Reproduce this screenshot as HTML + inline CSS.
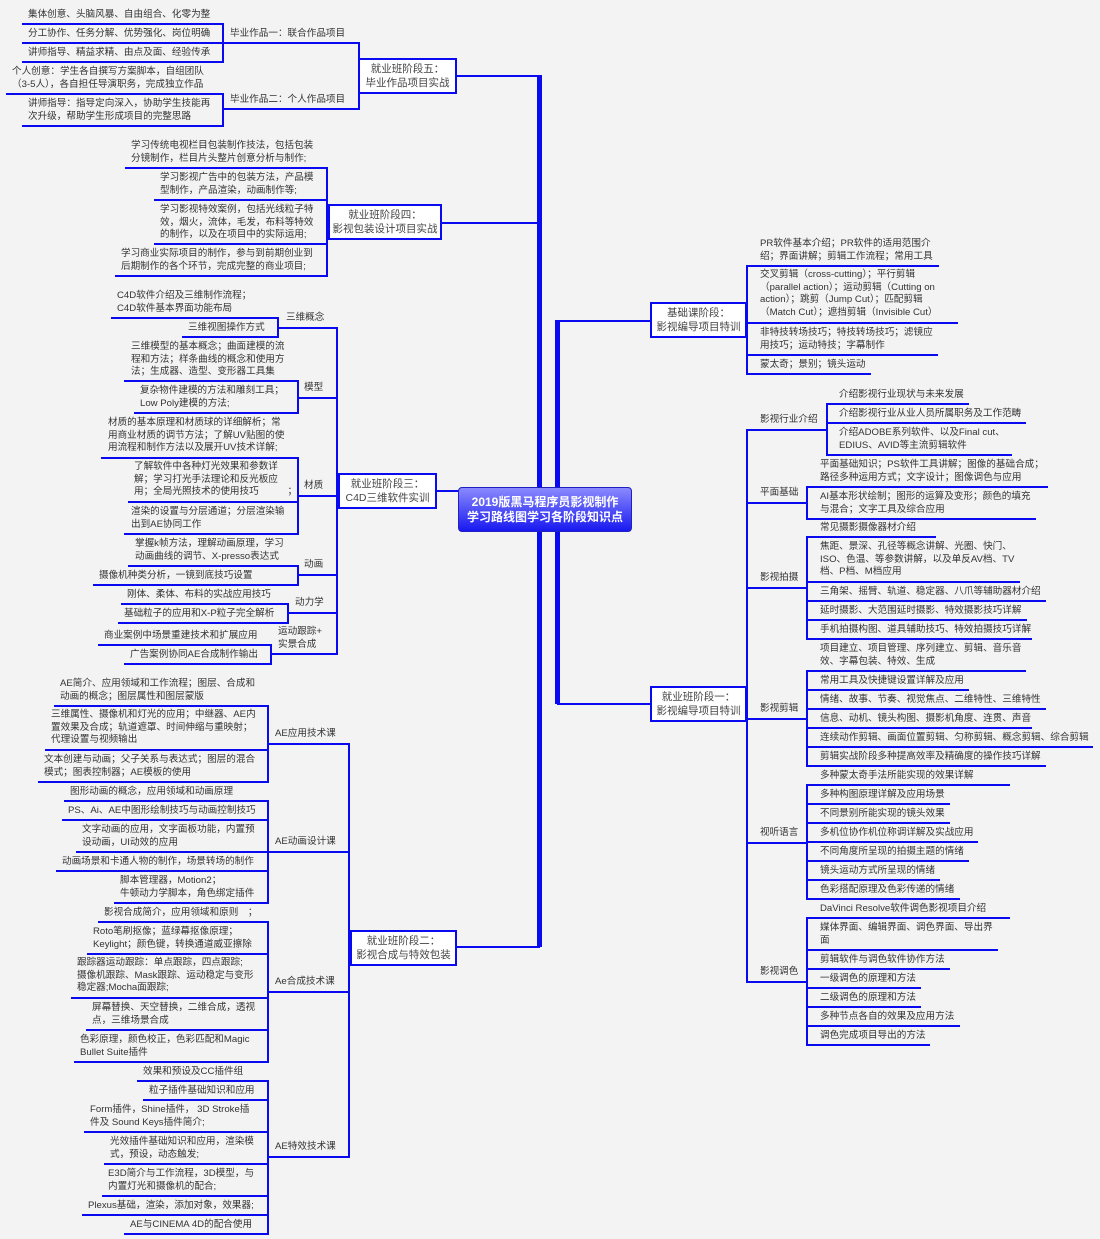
<!DOCTYPE html>
<html><head><meta charset="utf-8">
<style>
body{margin:0;background:#f3f3f3;}
#c{position:relative;width:1100px;height:1239px;overflow:hidden;background:#f3f3f3;font-family:"Liberation Sans","Noto Sans CJK SC",sans-serif;}
.t{position:absolute;font-size:9.6px;line-height:12.7px;color:#333;white-space:nowrap;}
.h{position:absolute;height:2px;background:#0a0af0;}
.v{position:absolute;width:2px;background:#0a0af0;}
.b{position:absolute;background:#fff;border:2px solid #0a0af0;box-sizing:border-box;font-size:10.5px;line-height:14px;color:#444;text-align:center;display:flex;flex-direction:column;justify-content:center;}
.ctr{position:absolute;left:458px;top:487px;width:174px;height:45px;border-radius:4px;background:linear-gradient(#8a8aff,#1818f0);border:1px solid #2020c0;box-sizing:border-box;color:#fff;font-weight:bold;font-size:12px;line-height:15px;text-align:center;display:flex;flex-direction:column;justify-content:center;}
</style></head><body><div id="c">
<!-- trunks -->
<div class="v" style="left:537px;top:75px;height:872px;width:5px"></div>
<div class="v" style="left:555px;top:320px;height:384px;width:5px"></div>
<div class="h" style="left:456px;top:75px;width:84px"></div>
<div class="h" style="left:441px;top:222px;width:98px"></div>
<div class="h" style="left:436px;top:490px;width:24px"></div>
<div class="h" style="left:456px;top:946px;width:84px"></div>
<div class="h" style="left:557px;top:320px;width:95px"></div>
<div class="h" style="left:557px;top:703px;width:95px"></div>
<div class="ctr"><div>2019版黑马程序员影视制作</div><div>学习路线图学习各阶段知识点</div></div>

<!-- Stage 5 -->
<div class="v" style="left:358px;top:42px;height:68px"></div>
<div class="b" style="left:358px;top:58px;width:99px;height:36px"><div>就业班阶段五：</div><div>毕业作品项目实战</div></div>
<div class="h" style="left:222px;top:42px;width:138px"></div>
<div class="h" style="left:222px;top:108px;width:138px"></div>
<div class="t" style="left:230px;top:28px">毕业作品一：联合作品项目</div>
<div class="t" style="left:230px;top:94px">毕业作品二：个人作品项目</div>
<div class="v" style="left:222px;top:23px;height:40px"></div>
<div class="v" style="left:222px;top:93px;height:34px"></div>
<div class="h" style="left:22px;top:23px;width:200px"></div>
<div class="h" style="left:22px;top:42px;width:200px"></div>
<div class="h" style="left:22px;top:61px;width:200px"></div>
<div class="h" style="left:6px;top:93px;width:216px"></div>
<div class="h" style="left:22px;top:125px;width:200px"></div>
<div class="t" style="left:28px;top:9px">集体创意、头脑风暴、自由组合、化零为整</div>
<div class="t" style="left:28px;top:28px">分工协作、任务分解、优势强化、岗位明确</div>
<div class="t" style="left:28px;top:47px">讲师指导、精益求精、由点及面、经验传承</div>
<div class="t" style="left:12px;top:66px">个人创意：学生各自撰写方案脚本，自组团队<br>（3-5人），各自担任导演职务，完成独立作品</div>
<div class="t" style="left:28px;top:98px">讲师指导：指导定向深入，协助学生技能再<br>次升级，帮助学生形成项目的完整思路</div>

<!-- Stage 4 -->
<div class="v" style="left:326px;top:167px;height:110px"></div>
<div class="b" style="left:328px;top:204px;width:114px;height:36px"><div>就业班阶段四：</div><div>影视包装设计项目实战</div></div>
<div class="h" style="left:125px;top:167px;width:201px"></div>
<div class="h" style="left:154px;top:199px;width:172px"></div>
<div class="h" style="left:154px;top:243px;width:172px"></div>
<div class="h" style="left:115px;top:275px;width:211px"></div>
<div class="t" style="left:131px;top:140px">学习传统电视栏目包装制作技法，包括包装<br>分镜制作，栏目片头整片创意分析与制作;</div>
<div class="t" style="left:160px;top:172px">学习影视广告中的包装方法，产品模<br>型制作，产品渲染，动画制作等;</div>
<div class="t" style="left:160px;top:204px">学习影视特效案例，包括光线粒子特<br>效，烟火，流体，毛发，布料等特效<br>的制作，以及在项目中的实际运用;</div>
<div class="t" style="left:121px;top:248px">学习商业实际项目的制作，参与到前期创业到<br>后期制作的各个环节，完成完整的商业项目;</div>

<!-- Stage 3 -->
<div class="v" style="left:336px;top:327px;height:328px"></div>
<div class="b" style="left:338px;top:473px;width:99px;height:36px"><div>就业班阶段三：</div><div>C4D三维软件实训</div></div>
<div class="h" style="left:277px;top:327px;width:60px"></div>
<div class="t" style="left:286px;top:312px">三维概念</div>
<div class="v" style="left:277px;top:317px;height:21px"></div>
<div class="h" style="left:111px;top:317px;width:166px"></div>
<div class="h" style="left:182px;top:336px;width:95px"></div>
<div class="t" style="left:117px;top:290px">C4D软件介绍及三维制作流程；<br>C4D软件基本界面功能布局</div>
<div class="t" style="left:188px;top:322px">三维视图操作方式</div>

<div class="h" style="left:297px;top:397px;width:40px"></div>
<div class="t" style="left:304px;top:382px">模型</div>
<div class="v" style="left:297px;top:380px;height:34px"></div>
<div class="h" style="left:124px;top:380px;width:173px"></div>
<div class="h" style="left:134px;top:412px;width:163px"></div>
<div class="t" style="left:131px;top:341px">三维模型的基本概念；曲面建模的流<br>程和方法；样条曲线的概念和使用方<br>法；生成器、造型、变形器工具集</div>
<div class="t" style="left:140px;top:385px">复杂物件建模的方法和雕刻工具；<br>Low Poly建模的方法;</div>

<div class="h" style="left:297px;top:495px;width:40px"></div>
<div class="t" style="left:304px;top:480px">材质</div>
<div class="v" style="left:297px;top:457px;height:78px"></div>
<div class="h" style="left:101px;top:457px;width:196px"></div>
<div class="h" style="left:128px;top:501px;width:169px"></div>
<div class="h" style="left:124px;top:533px;width:173px"></div>
<div class="t" style="left:108px;top:417px">材质的基本原理和材质球的详细解析；常<br>用商业材质的调节方法；了解UV贴图的使<br>用流程和制作方法以及展开UV技术详解;</div>
<div class="t" style="left:134px;top:461px">了解软件中各种灯光效果和参数详<br>解；学习打光手法理论和反光板应<br>用；全局光照技术的使用技巧　　　；</div>
<div class="t" style="left:131px;top:506px">渲染的设置与分层通道；分层渲染输<br>出到AE协同工作</div>

<div class="h" style="left:297px;top:574px;width:40px"></div>
<div class="t" style="left:304px;top:559px">动画</div>
<div class="v" style="left:297px;top:565px;height:21px"></div>
<div class="h" style="left:128px;top:565px;width:169px"></div>
<div class="h" style="left:93px;top:584px;width:204px"></div>
<div class="t" style="left:135px;top:538px">掌握k帧方法，理解动画原理，学习<br>动画曲线的调节、X-presso表达式</div>
<div class="t" style="left:99px;top:570px">摄像机种类分析，一镜到底技巧设置</div>

<div class="h" style="left:287px;top:612px;width:50px"></div>
<div class="t" style="left:295px;top:597px">动力学</div>
<div class="v" style="left:287px;top:603px;height:21px"></div>
<div class="h" style="left:121px;top:603px;width:166px"></div>
<div class="h" style="left:118px;top:622px;width:169px"></div>
<div class="t" style="left:127px;top:589px">刚体、柔体、布料的实战应用技巧</div>
<div class="t" style="left:124px;top:608px">基础粒子的应用和X-P粒子完全解析</div>

<div class="h" style="left:270px;top:653px;width:67px"></div>
<div class="t" style="left:278px;top:626px">运动跟踪+<br>实景合成</div>
<div class="v" style="left:270px;top:644px;height:21px"></div>
<div class="h" style="left:98px;top:644px;width:172px"></div>
<div class="h" style="left:124px;top:663px;width:146px"></div>
<div class="t" style="left:104px;top:630px">商业案例中场景重建技术和扩展应用</div>
<div class="t" style="left:130px;top:649px">广告案例协同AE合成制作输出</div>

<!-- Stage 2 -->
<div class="v" style="left:348px;top:743px;height:415px"></div>
<div class="b" style="left:350px;top:930px;width:107px;height:36px"><div>就业班阶段二：</div><div>影视合成与特效包装</div></div>
<div class="h" style="left:267px;top:743px;width:81px"></div>
<div class="h" style="left:267px;top:851px;width:81px"></div>
<div class="h" style="left:267px;top:991px;width:81px"></div>
<div class="h" style="left:267px;top:1156px;width:81px"></div>
<div class="t" style="left:275px;top:728px">AE应用技术课</div>
<div class="t" style="left:275px;top:836px">AE动画设计课</div>
<div class="t" style="left:275px;top:976px">Ae合成技术课</div>
<div class="t" style="left:275px;top:1141px">AE特效技术课</div>

<div class="v" style="left:267px;top:705px;height:78px"></div>
<div class="h" style="left:54px;top:705px;width:213px"></div>
<div class="h" style="left:45px;top:749px;width:222px"></div>
<div class="h" style="left:38px;top:781px;width:229px"></div>
<div class="t" style="left:60px;top:678px">AE简介、应用领域和工作流程；图层、合成和<br>动画的概念；图层属性和图层蒙版</div>
<div class="t" style="left:51px;top:709px">三维属性、摄像机和灯光的应用；中继器、AE内<br>置效果及合成；轨道遮罩、时间伸缩与重映射；<br>代理设置与视频输出</div>
<div class="t" style="left:44px;top:754px">文本创建与动画；父子关系与表达式；图层的混合<br>模式；图表控制器；AE模板的使用</div>

<div class="v" style="left:267px;top:800px;height:104px"></div>
<div class="h" style="left:64px;top:800px;width:203px"></div>
<div class="h" style="left:62px;top:819px;width:205px"></div>
<div class="h" style="left:76px;top:851px;width:191px"></div>
<div class="h" style="left:56px;top:870px;width:211px"></div>
<div class="h" style="left:114px;top:902px;width:153px"></div>
<div class="t" style="left:70px;top:786px">图形动画的概念，应用领域和动画原理</div>
<div class="t" style="left:68px;top:805px">PS、Ai、AE中图形绘制技巧与动画控制技巧</div>
<div class="t" style="left:82px;top:824px">文字动画的应用，文字面板功能，内置预<br>设动画，UI动效的应用</div>
<div class="t" style="left:62px;top:856px">动画场景和卡通人物的制作，场景转场的制作</div>
<div class="t" style="left:120px;top:875px">脚本管理器，Motion2；<br>牛顿动力学脚本，角色绑定插件</div>

<div class="v" style="left:267px;top:921px;height:142px"></div>
<div class="h" style="left:98px;top:921px;width:169px"></div>
<div class="h" style="left:87px;top:953px;width:180px"></div>
<div class="h" style="left:71px;top:997px;width:196px"></div>
<div class="h" style="left:86px;top:1029px;width:181px"></div>
<div class="h" style="left:74px;top:1061px;width:193px"></div>
<div class="t" style="left:104px;top:907px">影视合成简介，应用领域和原则　；</div>
<div class="t" style="left:93px;top:926px">Roto笔刷抠像；蓝绿幕抠像原理；<br>Keylight；颜色键，转换通道威亚擦除</div>
<div class="t" style="left:77px;top:957px">跟踪器运动跟踪：单点跟踪，四点跟踪;<br>摄像机跟踪、Mask跟踪、运动稳定与变形<br>稳定器;Mocha面跟踪;</div>
<div class="t" style="left:92px;top:1002px">屏幕替换、天空替换，二维合成，透视<br>点，三维场景合成</div>
<div class="t" style="left:80px;top:1034px">色彩原理，颜色校正，色彩匹配和Magic<br>Bullet Suite插件</div>

<div class="v" style="left:267px;top:1080px;height:155px"></div>
<div class="h" style="left:137px;top:1080px;width:130px"></div>
<div class="h" style="left:143px;top:1099px;width:124px"></div>
<div class="h" style="left:84px;top:1131px;width:183px"></div>
<div class="h" style="left:104px;top:1163px;width:163px"></div>
<div class="h" style="left:102px;top:1195px;width:165px"></div>
<div class="h" style="left:82px;top:1214px;width:185px"></div>
<div class="h" style="left:124px;top:1233px;width:143px"></div>
<div class="t" style="left:143px;top:1066px">效果和预设及CC插件组</div>
<div class="t" style="left:149px;top:1085px">粒子插件基础知识和应用</div>
<div class="t" style="left:90px;top:1104px">Form插件，Shine插件， 3D Stroke插<br>件及 Sound Keys插件简介;</div>
<div class="t" style="left:110px;top:1136px">光效插件基础知识和应用，渲染模<br>式，预设，动态触发;</div>
<div class="t" style="left:108px;top:1168px">E3D简介与工作流程，3D模型，与<br>内置灯光和摄像机的配合;</div>
<div class="t" style="left:88px;top:1200px">Plexus基础，渲染，添加对象，效果器;</div>
<div class="t" style="left:130px;top:1219px">AE与CINEMA 4D的配合使用</div>

<!-- Stage 基础 -->
<div class="v" style="left:746px;top:265px;height:110px"></div>
<div class="b" style="left:650px;top:302px;width:97px;height:36px"><div>基础课阶段：</div><div>影视编导项目特训</div></div>
<div class="h" style="left:746px;top:265px;width:193px"></div>
<div class="h" style="left:746px;top:322px;width:212px"></div>
<div class="h" style="left:746px;top:354px;width:192px"></div>
<div class="h" style="left:746px;top:373px;width:125px"></div>
<div class="t" style="left:760px;top:238px">PR软件基本介绍；PR软件的适用范围介<br>绍；界面讲解；剪辑工作流程；常用工具</div>
<div class="t" style="left:760px;top:269px">交叉剪辑（cross-cutting）；平行剪辑<br>（parallel action）；运动剪辑（Cutting on<br>action）；跳剪（Jump Cut）；匹配剪辑<br>（Match Cut）；遮挡剪辑（Invisible Cut）</div>
<div class="t" style="left:760px;top:327px">非特技转场技巧；特技转场技巧；滤镜应<br>用技巧；运动特技；字幕制作</div>
<div class="t" style="left:760px;top:359px">蒙太奇；景别；镜头运动</div>

<!-- Stage 1 -->
<div class="v" style="left:746px;top:429px;height:554px"></div>
<div class="b" style="left:650px;top:686px;width:97px;height:36px"><div>就业班阶段一：</div><div>影视编导项目特训</div></div>

<div class="h" style="left:746px;top:429px;width:80px"></div>
<div class="t" style="left:760px;top:414px">影视行业介绍</div>
<div class="v" style="left:826px;top:403px;height:53px"></div>
<div class="h" style="left:826px;top:403px;width:143px"></div>
<div class="h" style="left:826px;top:422px;width:200px"></div>
<div class="h" style="left:826px;top:454px;width:186px"></div>
<div class="t" style="left:839px;top:389px">介绍影视行业现状与未来发展</div>
<div class="t" style="left:839px;top:408px">介绍影视行业从业人员所属职务及工作范畴</div>
<div class="t" style="left:839px;top:427px">介绍ADOBE系列软件、以及Final cut、<br>EDIUS、AVID等主流剪辑软件</div>

<div class="h" style="left:746px;top:502px;width:60px"></div>
<div class="t" style="left:760px;top:487px">平面基础</div>
<div class="v" style="left:806px;top:486px;height:34px"></div>
<div class="h" style="left:806px;top:486px;width:242px"></div>
<div class="h" style="left:806px;top:518px;width:230px"></div>
<div class="t" style="left:820px;top:459px">平面基础知识；PS软件工具讲解；图像的基础合成；<br>路径多种运用方式；文字设计；图像调色与应用</div>
<div class="t" style="left:820px;top:491px">AI基本形状绘制；图形的运算及变形；颜色的填充<br>与混合；文字工具及综合应用</div>

<div class="h" style="left:746px;top:587px;width:60px"></div>
<div class="t" style="left:760px;top:572px">影视拍摄</div>
<div class="v" style="left:806px;top:536px;height:104px"></div>
<div class="h" style="left:806px;top:536px;width:130px"></div>
<div class="h" style="left:806px;top:581px;width:214px"></div>
<div class="h" style="left:806px;top:600px;width:240px"></div>
<div class="h" style="left:806px;top:619px;width:221px"></div>
<div class="h" style="left:806px;top:638px;width:226px"></div>
<div class="t" style="left:820px;top:522px">常见摄影摄像器材介绍</div>
<div class="t" style="left:820px;top:541px">焦距、景深、孔径等概念讲解、光圈、快门、<br>ISO、色温、等参数讲解，以及单反AV档、TV<br>档、P档、M档应用</div>
<div class="t" style="left:820px;top:586px">三角架、摇臂、轨道、稳定器、八爪等辅助器材介绍</div>
<div class="t" style="left:820px;top:605px">延时摄影、大范围延时摄影、特效摄影技巧详解</div>
<div class="t" style="left:820px;top:624px">手机拍摄构图、道具辅助技巧、特效拍摄技巧详解</div>

<div class="h" style="left:746px;top:718px;width:60px"></div>
<div class="t" style="left:760px;top:703px">影视剪辑</div>
<div class="v" style="left:806px;top:670px;height:97px"></div>
<div class="h" style="left:806px;top:670px;width:220px"></div>
<div class="h" style="left:806px;top:689px;width:163px"></div>
<div class="h" style="left:806px;top:708px;width:240px"></div>
<div class="h" style="left:806px;top:727px;width:226px"></div>
<div class="h" style="left:806px;top:746px;width:287px"></div>
<div class="h" style="left:806px;top:765px;width:240px"></div>
<div class="t" style="left:820px;top:643px">项目建立、项目管理、序列建立、剪辑、音乐音<br>效、字幕包装、特效、生成</div>
<div class="t" style="left:820px;top:675px">常用工具及快捷键设置详解及应用</div>
<div class="t" style="left:820px;top:694px">情绪、故事、节奏、视觉焦点、二维特性、三维特性</div>
<div class="t" style="left:820px;top:713px">信息、动机、镜头构图、摄影机角度、连贯、声音</div>
<div class="t" style="left:820px;top:732px">连续动作剪辑、画面位置剪辑、匀称剪辑、概念剪辑、综合剪辑</div>
<div class="t" style="left:820px;top:751px">剪辑实战阶段多种提高效率及精确度的操作技巧详解</div>

<div class="h" style="left:746px;top:842px;width:60px"></div>
<div class="t" style="left:760px;top:827px">视听语言</div>
<div class="v" style="left:806px;top:784px;height:116px"></div>
<div class="h" style="left:806px;top:784px;width:204px"></div>
<div class="h" style="left:806px;top:803px;width:144px"></div>
<div class="h" style="left:806px;top:822px;width:144px"></div>
<div class="h" style="left:806px;top:841px;width:172px"></div>
<div class="h" style="left:806px;top:860px;width:163px"></div>
<div class="h" style="left:806px;top:879px;width:134px"></div>
<div class="h" style="left:806px;top:898px;width:154px"></div>
<div class="t" style="left:820px;top:770px">多种蒙太奇手法所能实现的效果详解</div>
<div class="t" style="left:820px;top:789px">多种构图原理详解及应用场景</div>
<div class="t" style="left:820px;top:808px">不同景别所能实现的镜头效果</div>
<div class="t" style="left:820px;top:827px">多机位协作机位称调详解及实战应用</div>
<div class="t" style="left:820px;top:846px">不同角度所呈现的拍摄主题的情绪</div>
<div class="t" style="left:820px;top:865px">镜头运动方式所呈现的情绪</div>
<div class="t" style="left:820px;top:884px">色彩搭配原理及色彩传递的情绪</div>

<div class="h" style="left:746px;top:981px;width:60px"></div>
<div class="t" style="left:760px;top:966px">影视调色</div>
<div class="v" style="left:806px;top:917px;height:129px"></div>
<div class="h" style="left:806px;top:917px;width:204px"></div>
<div class="h" style="left:806px;top:949px;width:192px"></div>
<div class="h" style="left:806px;top:968px;width:144px"></div>
<div class="h" style="left:806px;top:987px;width:115px"></div>
<div class="h" style="left:806px;top:1006px;width:115px"></div>
<div class="h" style="left:806px;top:1025px;width:154px"></div>
<div class="h" style="left:806px;top:1044px;width:124px"></div>
<div class="t" style="left:820px;top:903px">DaVinci Resolve软件调色影视项目介绍</div>
<div class="t" style="left:820px;top:922px">媒体界面、编辑界面、调色界面、导出界<br>面</div>
<div class="t" style="left:820px;top:954px">剪辑软件与调色软件协作方法</div>
<div class="t" style="left:820px;top:973px">一级调色的原理和方法</div>
<div class="t" style="left:820px;top:992px">二级调色的原理和方法</div>
<div class="t" style="left:820px;top:1011px">多种节点各自的效果及应用方法</div>
<div class="t" style="left:820px;top:1030px">调色完成项目导出的方法</div>
</div></body></html>
